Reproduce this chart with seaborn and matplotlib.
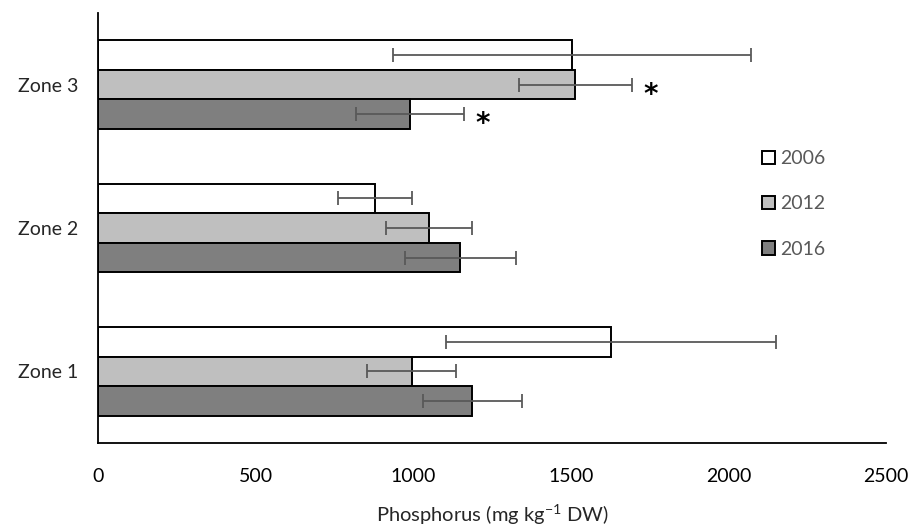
import numpy as np
import pandas as pd
import matplotlib
matplotlib.use("Agg")
import matplotlib.pyplot as plt
import seaborn as sns

# values
zones = ["Zone 3", "Zone 2", "Zone 1"]
years = ["2006", "2012", "2016"]
p_2006 = [1503, 880, 1627]
p_2012 = [1514, 1050, 995]
p_2016 = [990, 1150, 1187]
err_2006 = [568, 117, 523]
err_2012 = [179, 137, 141]
err_2016 = [172, 177, 157]
colors = ["#FFFFFF", "#BFBFBF", "#7F7F7F"]

# significance marks: (zone, year, x position)
stars = [("Zone 3", "2012", 1755), ("Zone 3", "2016", 1220)]

df = pd.DataFrame({
    "zone": zones * 3,
    "year": [y for y in years for _ in zones],
    "value": p_2006 + p_2012 + p_2016,
    "err": err_2006 + err_2012 + err_2016,
})

sns.set_style("white")
plt.rcParams["font.family"] = ["Lato", "DejaVu Sans"]
plt.rcParams["mathtext.fontset"] = "custom"
plt.rcParams["mathtext.rm"] = "Lato"

fig, ax = plt.subplots(figsize=(9.12, 5.26), dpi=100)
fig.subplots_adjust(left=98 / 912, right=886 / 912, bottom=83 / 526, top=1 - 13 / 526)

sns.barplot(data=df, y="zone", x="value", hue="year", order=zones, hue_order=years,
            palette=colors, orient="h", errorbar=None, width=0.62, gap=0,
            edgecolor="black", linewidth=1.4, ax=ax)

# error bars centred on each bar
for container, yr in zip(ax.containers, years):
    sub = df[df["year"] == yr].set_index("zone").loc[zones]
    ys = [p.get_y() + p.get_height() / 2 for p in container.patches]
    ax.errorbar(sub["value"], ys, xerr=sub["err"], fmt="none", ecolor="#595959",
                elinewidth=1.3, capsize=5, capthick=1.3, zorder=5)

# asterisks
for zone, yr, xpos in stars:
    bar = ax.containers[years.index(yr)].patches[zones.index(zone)]
    ax.text(xpos, bar.get_y() + bar.get_height() / 2 + 0.07, "*", fontsize=20,
            fontweight="bold", family="DejaVu Sans", ha="center", va="center", color="black")

ax.set_xlim(0, 2500)
ax.set_ylim(2.5, -0.5)
ax.set_xticks(np.arange(0, 2501, 500))
ax.set_xlabel("Phosphorus (mg kg$^{\\mathrm{-1}}$ DW)", fontsize=14.5, labelpad=12)
ax.set_ylabel("")
ax.tick_params(axis="x", direction="out", length=6, width=1.2, labelsize=14, colors="black", pad=12)
ax.tick_params(axis="y", length=0, labelsize=14, pad=14)

for s in ["top", "right"]:
    ax.spines[s].set_visible(False)
for s in ["left", "bottom"]:
    ax.spines[s].set_color("black")
    ax.spines[s].set_linewidth(1.3)

leg = ax.legend(loc="center left", bbox_to_anchor=(0.82, 0.556), frameon=False,
                handlelength=0.7, handleheight=0.7, handletextpad=0.25,
                labelspacing=1.45, fontsize=14)
for t in leg.get_texts():
    t.set_color("#595959")
for h in leg.legend_handles:
    h.set_edgecolor("black")
    h.set_linewidth(1.4)

fig.savefig("out.png", dpi=100)
